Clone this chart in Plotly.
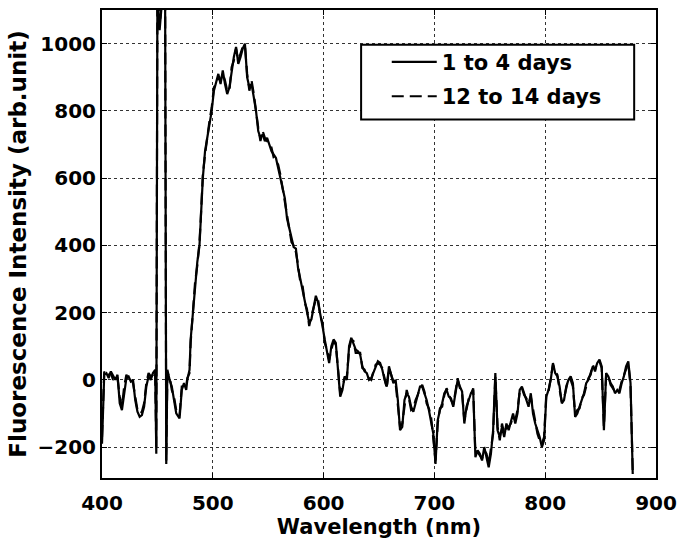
import plotly.graph_objects as go

wavelength = [
    400, 401, 402, 404, 406, 408, 410, 412, 414, 416,
    418, 420, 422, 424, 426, 428, 430, 432, 434, 436,
    438, 440, 442, 444, 446, 448, 449, 450, 452, 454,
    457, 458, 459, 461, 463, 465, 467, 470, 472, 474,
    476, 477, 479, 480, 482, 484, 486, 488, 489, 490,
    491, 493, 495, 497, 499, 501, 503, 505, 507, 509,
    511, 513, 515, 517, 519, 521, 523, 525, 527, 529,
    531, 533, 535, 537, 539, 541, 543, 545, 547, 549,
    551, 553, 555, 557, 559, 561, 563, 565, 567, 569,
    571, 573, 575, 577, 579, 581, 583, 585, 587, 589,
    591, 593, 595, 597, 599, 601, 603, 605, 607, 609,
    611, 613, 615, 617, 619, 621, 623, 625, 627, 629,
    631, 633, 635, 637, 639, 641, 643, 645, 647, 649,
    651, 653, 655, 657, 659, 661, 663, 665, 667, 669,
    671, 673, 675, 677, 679, 681, 683, 685, 687, 689,
    691, 693, 695, 697, 699, 701, 703, 705, 707, 709,
    711, 713, 715, 717, 719, 721, 723, 725, 727, 729,
    731, 733, 735, 737, 739, 741, 743, 745, 747, 749,
    751, 753, 755, 757, 759, 761, 763, 765, 767, 769,
    771, 773, 775, 777, 779, 781, 783, 785, 787, 789,
    791, 793, 795, 797, 799, 801, 803, 805, 807, 809,
    811, 813, 815, 817, 819, 821, 823, 825, 827, 829,
    831, 833, 835, 837, 839, 841, 843, 845, 847, 849,
    851, 853, 855, 857, 859, 861, 863, 865, 867, 869,
    871, 873, 875, 877, 878, 879,
]

days_1_to_4 = [
    -190, -60, 15, 20, 5, 25, 10, 0, 15, -70,
    -90, -40, 5, 10, -5, 0, -60, -95, -110, -105,
    -80, -20, 10, 0, 20, 30, -220, 1150, 1040, 1120,
    1100, -250, 30, 0, -20, -60, -100, -115, -30, -10,
    -30, 0, 30, 120, 200, 280, 350, 400, 480, 560,
    600, 680, 720, 760, 800, 860, 890, 910, 880, 920,
    880, 850, 870, 920, 960, 990, 940, 960, 985, 1000,
    900, 870, 880, 840, 800, 740, 720, 730, 710, 720,
    700, 680, 670, 660, 630, 600, 560, 540, 480, 450,
    420, 395, 390, 330, 300, 270, 240, 200, 170, 180,
    210, 250, 230, 200, 160, 120, 80, 50, 100, 120,
    110, 30, -50, -30, 10, 0, 100, 125, 110, 90,
    85, 75, 40, 25, 20, 0, 5, 20, 40, 55,
    50, 30, 0, -20, 40, 10, -10, 0, -60, -150,
    -140, -60, -40, -50, -80, -95, -70, -40, -20, -20,
    -40, -60, -90, -120, -160, -250, -120, -90, -70, -40,
    -30, -50, -55, -80, -40, 0, -20, -35, -130, -80,
    -60, -40, -30, -230, -210, -220, -240, -200, -230, -260,
    -220, -150, 20, -150, -170, -140, -170, -130, -150, -120,
    -100, -130, -100, -30, -20, -40, -60, -80, -40, -100,
    -130, -150, -170, -200, -180, -50, -30, 0, 50, 20,
    10, -20, -70, -60, -20, 0, 10, -10, -110, -100,
    -80, -60, -40, -10, 0, 20, 40, 30, 50, 60,
    40, -150, 20, 10, -10, -20, -40, -30, -40, -10,
    10, 40, 55, -10, -160, -280,
]

days_12_to_14 = [
    -170, -40, 25, 10, 15, 20, 0, 10, 5, -50,
    -80, -20, 15, 0, 5, -10, -50, -90, -100, -95,
    -70, -10, 20, 10, 15, 25, -200, 1160, 1050, 1130,
    1110, -240, 20, 10, -30, -50, -90, -105, -20, -20,
    -20, 5, 20, 110, 190, 290, 340, 410, 470, 550,
    610, 670, 730, 770, 810, 870, 880, 900, 890, 910,
    890, 860, 860, 930, 950, 985, 950, 970, 990, 995,
    910, 860, 890, 850, 790, 750, 710, 740, 720, 710,
    710, 690, 660, 650, 640, 610, 570, 530, 490, 440,
    410, 400, 380, 340, 290, 280, 230, 210, 160, 190,
    220, 240, 240, 190, 170, 110, 90, 60, 90, 115,
    105, 40, -40, -20, 5, 10, 90, 120, 115, 80,
    80, 80, 35, 30, 10, 5, 0, 25, 45, 50,
    45, 35, 5, -25, 35, 15, -5, -10, -70, -140,
    -130, -70, -30, -55, -90, -85, -60, -45, -25, -15,
    -35, -70, -85, -110, -170, -240, -130, -85, -80, -45,
    -25, -45, -60, -75, -30, 5, -25, -40, -120, -90,
    -55, -45, -25, -220, -215, -225, -235, -210, -220, -250,
    -210, -160, 10, -140, -180, -130, -160, -140, -140, -130,
    -110, -120, -90, -35, -25, -45, -55, -70, -50, -90,
    -120, -160, -180, -190, -170, -40, -35, 10, 45, 25,
    15, -30, -65, -55, -25, 5, 0, -20, -100, -90,
    -85, -55, -45, -15, 5, 15, 45, 25, 55, 55,
    35, -140, 15, 15, -15, -25, -35, -40, -30, -5,
    15, 35, 50, -20, -150, -270,
]

x_ticks = [400, 500, 600, 700, 800, 900]
y_ticks = [-200, 0, 200, 400, 600, 800, 1000]

FONT = "DejaVu Sans, Arial, sans-serif"

fig = go.Figure()
fig.add_trace(go.Scatter(
    x=wavelength, y=days_1_to_4, mode="lines", name="1 to 4 days",
    line=dict(color="black", width=2.2, dash="solid"), legendgroup="a",
))
fig.add_trace(go.Scatter(
    x=wavelength, y=days_12_to_14, mode="lines", name="12 to 14 days",
    line=dict(color="black", width=2.2, dash="12px,6px"), legendgroup="b",
))

axis_common = dict(
    showline=True, linecolor="black", linewidth=2, mirror="ticks",
    ticks="inside", ticklen=5, tickcolor="black", tickwidth=1,
    showgrid=True, gridcolor="#333333", gridwidth=1, griddash="dot",
    zeroline=False,
    tickfont=dict(family=FONT, size=20, color="black", weight="bold"),
)

fig.update_layout(
    width=685, height=545,
    margin=dict(l=102, r=25, t=8, b=67),
    paper_bgcolor="white", plot_bgcolor="white",
    xaxis=dict(
        range=[400, 900], tickvals=x_ticks, ticklabelstandoff=6,
        title=dict(text="Wavelength (nm)", standoff=2,
                   font=dict(family=FONT, size=21, color="black", weight="bold")),
        **axis_common,
    ),
    yaxis=dict(
        range=[-292, 1100], tickvals=y_ticks,
        title=dict(text="Fluorescence Intensity (arb.unit)", standoff=4,
                   font=dict(family=FONT, size=23, color="black", weight="bold")),
        **axis_common,
    ),
    showlegend=True,
    legend=dict(
        x=0.514, y=0.932, xanchor="left", yanchor="top",
        bgcolor="rgba(0,0,0,0)", borderwidth=0,
        font=dict(family=FONT, size=21, color="black", weight="bold"),
        itemwidth=45, tracegroupgap=4,
    ),
    shapes=[dict(
        type="rect", xref="paper", yref="paper",
        x0=0.4677, x1=0.9606, y0=0.766, y1=0.9255,
        line=dict(color="black", width=2), fillcolor="white", layer="above",
    )],
)

fig.write_html("out.html")
